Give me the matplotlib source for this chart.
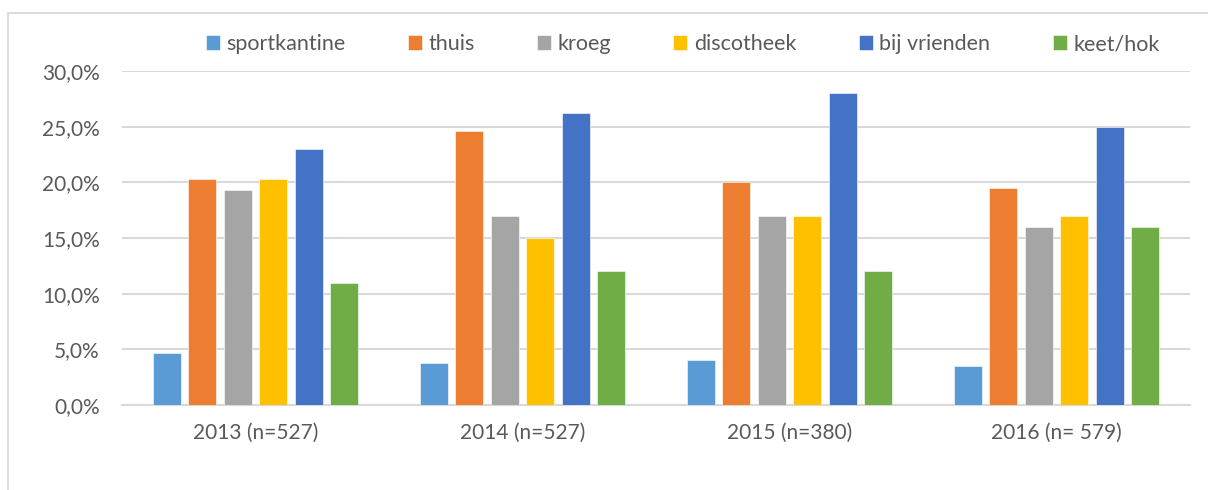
import numpy as np
import matplotlib.pyplot as plt
from matplotlib.patches import Rectangle
from matplotlib.ticker import FuncFormatter

plt.rcParams['font.family'] = ['Lato', 'DejaVu Sans']

years = ['2013 (n=527)', '2014 (n=527)', '2015 (n=380)', '2016 (n= 579)']
locations = ['sportkantine', 'thuis', 'kroeg', 'discotheek', 'bij vrienden', 'keet/hok']
colors = ['#5B9BD5', '#ED7D31', '#A5A5A5', '#FFC000', '#4472C4', '#70AD47']

sportkantine = [4.7, 3.8, 4.0, 3.5]
thuis = [20.3, 24.6, 20.0, 19.5]
kroeg = [19.3, 17.0, 17.0, 16.0]
discotheek = [20.3, 15.0, 17.0, 17.0]
bij_vrienden = [23.0, 26.2, 28.0, 25.0]
keet_hok = [11.0, 12.0, 12.0, 16.0]
series = [sportkantine, thuis, kroeg, discotheek, bij_vrienden, keet_hok]

text_col = '#595959'
grid_col = '#D9D9D9'

fig = plt.figure(figsize=(12.08, 4.9), dpi=100)
ax = fig.add_axes([0.101, 0.1735, 0.884, 0.6815])

# outer chart border (top and left only visible)
fig.patches.append(Rectangle((8 / 1208, -0.1), 1.2, 1 - 13 / 490 + 0.1,
                             transform=fig.transFigure, fill=False,
                             edgecolor=grid_col, linewidth=1.3))

x = np.arange(len(years))
step = 0.133
width = 0.105
for i, (name, vals) in enumerate(zip(locations, series)):
    offs = (i - 2.5) * step
    ax.bar(x + offs, vals, width, color=colors[i], label=name,
           edgecolor='white', linewidth=0.4, zorder=3)

ax.set_xlim(-0.5, 3.5)
ax.set_ylim(0, 30)
ax.set_yticks(np.arange(0, 31, 5))
ax.yaxis.set_major_formatter(FuncFormatter(lambda v, p: f'{v:.1f}%'.replace('.', ',')))
ax.set_xticks(x)
ax.set_xticklabels(years)

ax.grid(axis='y', color=grid_col, linewidth=1.5, zorder=0)
for s in ['top', 'right', 'left']:
    ax.spines[s].set_visible(False)
ax.spines['bottom'].set_color(grid_col)
ax.spines['bottom'].set_linewidth(1.5)
ax.tick_params(axis='both', length=0, labelsize=15, colors=text_col)
ax.tick_params(axis='y', pad=16)
ax.tick_params(axis='x', pad=13)

leg = fig.legend(loc='center', bbox_to_anchor=(0.565, 0.91), ncol=6,
                 frameon=False, fontsize=15.5, handlelength=0.65, handleheight=0.65,
                 handletextpad=0.3, columnspacing=2.9)
for t in leg.get_texts():
    t.set_color(text_col)

fig.savefig('out.png', dpi=100)
